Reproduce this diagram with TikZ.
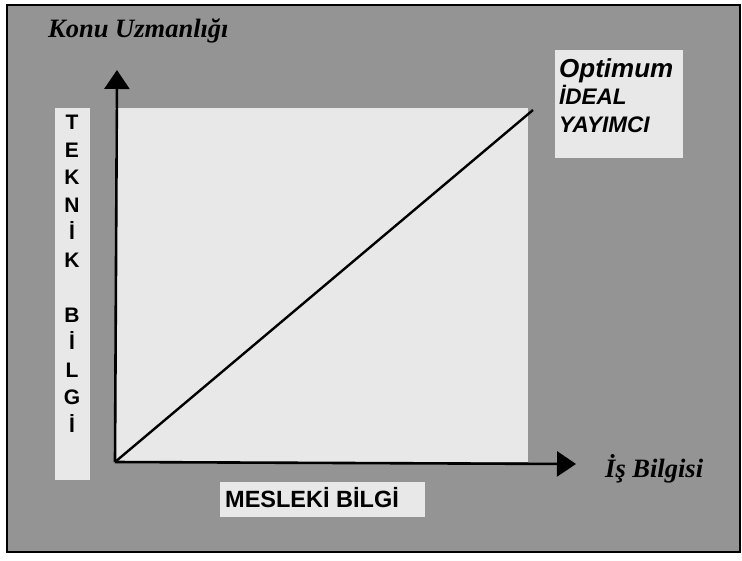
\documentclass[tikz,border=0pt]{standalone}
\usepackage{fontspec}
\usetikzlibrary{arrows.meta}
\newfontfamily\arialfont{Liberation Sans}
\newfontfamily\timesfont{Liberation Serif}

\tikzset{
    screen/.style={
        fill=black!42
    },
    lightbox/.style={
        fill=black!9
    },
    axis/.style={
        -{Triangle[length=19pt,width=25pt]},
        line width=2.6pt
    },
    trend/.style={
        line width=2.4pt
    },
    headlabel/.style={
        font=\timesfont\bfseries\itshape\fontsize{26.5}{28}\selectfont,
        inner sep=0pt
    },
    boxlabel/.style={
        font=\arialfont\bfseries\fontsize{23.5}{26}\selectfont,
        inner sep=0pt
    }
}

\begin{document}
\begin{tikzpicture}[x=1pt,y=-1pt]
    \useasboundingbox (0,0) rectangle (742,560);

    % Hintergrund und helle Felder
    \path[screen,draw=black,line width=1.4pt] (7,5) rectangle (740,552);
    \path[lightbox] (115,108) rectangle (528,462);
    \path[lightbox] (55,108) rectangle (90,480);
    \path[lightbox] (555,50) rectangle (683,158);
    \path[lightbox] (220,482) rectangle (425,517);

    % Achsenpunkte
    \coordinate (O)     at (115,462);
    \coordinate (ytip)  at (117,70);
    \coordinate (xtip)  at (576,464);
    \coordinate (ideal) at (533,110);

    % Beschriftungen
    \path
        node[headlabel,anchor=base west] at (48,37)  (konu) {Konu Uzmanlığı}
        node[headlabel,anchor=base west] at (605,477) (is)  {İş Bilgisi}
        node[boxlabel,anchor=base west]  at (225,507) (mes) {MESLEKİ BİLGİ}
        node[boxlabel,anchor=north,align=center,
             font=\arialfont\bfseries\fontsize{21}{27.5}\selectfont]
             at (72,115) (tek) {T\\E\\K\\N\\İ\\K\\[27.5pt]B\\İ\\L\\G\\İ}
        node[boxlabel,anchor=north west,align=left,
             font=\arialfont\bfseries\itshape\fontsize{22.5}{27.5}\selectfont]
             at (559,58) (opt) {{\fontsize{26}{27.5}\selectfont Optimum}\\İDEAL\\YAYIMCI};

    % Achsen und Gerade
    \path[axis]
        (O) edge (ytip)
        (O) edge (xtip);
    \path[trend]
        (O) edge (ideal);
\end{tikzpicture}
\end{document}
